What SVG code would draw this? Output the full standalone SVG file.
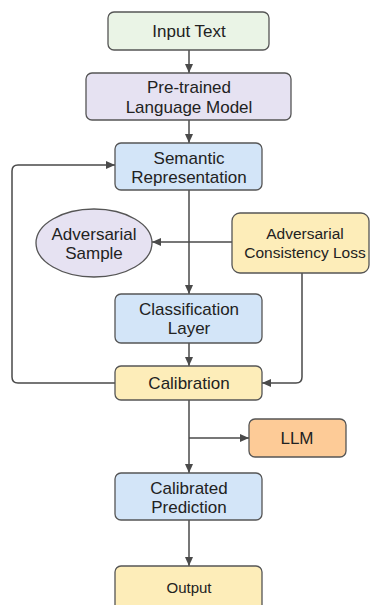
<svg xmlns="http://www.w3.org/2000/svg" width="371" height="605" viewBox="0 0 371 605">
  <style>
    .box { stroke: #555; stroke-width: 1.3; }
    .green { fill: #eaf4e6; }
    .lav { fill: #e6e2f2; }
    .blue { fill: #d3e5f8; }
    .yellow { fill: #fdedb9; }
    .orange { fill: #fdcb97; }
    .t { font-family: "Liberation Sans", Arial, sans-serif; font-size: 17px; fill: #222; text-anchor: middle; }
    .s { font-size: 15.5px; }
    .xs { font-size: 15px; }
    .wire { fill: none; stroke: #4a4a4a; stroke-width: 1.5; }
  </style>
  <defs>
    <marker id="arrow" markerWidth="10" markerHeight="10" refX="9" refY="5" orient="auto" markerUnits="userSpaceOnUse">
      <path d="M0,1 L9,5 L0,9 Z" fill="#4a4a4a"/>
    </marker>
  </defs>
  <rect width="371" height="605" fill="#ffffff"/>

  <g id="connectors">
    <path class="wire" d="M189,50 V73" marker-end="url(#arrow)"/>
    <path class="wire" d="M189,120 V143" marker-end="url(#arrow)"/>
    <path class="wire" d="M189,190 V294" marker-end="url(#arrow)"/>
    <path class="wire" d="M232,242 H152" marker-end="url(#arrow)"/>
    <path class="wire" d="M189,343 V366" marker-end="url(#arrow)"/>
    <path class="wire" d="M302,273 V377 Q302,383 296,383 H262" marker-end="url(#arrow)"/>
    <path class="wire" d="M115,383 H18 Q12,383 12,377 V171 Q12,165 18,165 H115" marker-end="url(#arrow)"/>
    <path class="wire" d="M189,400 V473" marker-end="url(#arrow)"/>
    <path class="wire" d="M189,438 H249" marker-end="url(#arrow)"/>
    <path class="wire" d="M189,520 V566" marker-end="url(#arrow)"/>
  </g>

  <g id="input-text">
    <rect class="box green" x="108" y="12" width="161" height="38" rx="6"/>
    <text class="t" x="189" y="37">Input Text</text>
  </g>
  <g id="pretrained-lm">
    <rect class="box lav" x="86" y="73" width="205" height="47" rx="6"/>
    <text class="t" x="189" y="93">Pre-trained</text>
    <text class="t" x="189" y="113">Language Model</text>
  </g>
  <g id="semantic-representation">
    <rect class="box blue" x="115" y="143" width="147" height="47" rx="6"/>
    <text class="t" x="189" y="164">Semantic</text>
    <text class="t" x="189" y="183">Representation</text>
  </g>
  <g id="adversarial-sample">
    <ellipse class="box lav" cx="94" cy="243" rx="58" ry="34"/>
    <text class="t" x="94" y="240">Adversarial</text>
    <text class="t" x="94" y="259">Sample</text>
  </g>
  <g id="adversarial-consistency-loss">
    <rect class="box yellow" x="232" y="213" width="137" height="60" rx="8"/>
    <text class="t s" x="305" y="239">Adversarial</text>
    <text class="t s" x="305" y="258">Consistency Loss</text>
  </g>
  <g id="classification-layer">
    <rect class="box blue" x="115" y="294" width="147" height="49" rx="6"/>
    <text class="t" x="189" y="315">Classification</text>
    <text class="t" x="189" y="334">Layer</text>
  </g>
  <g id="calibration">
    <rect class="box yellow" x="115" y="366" width="147" height="34" rx="6"/>
    <text class="t" x="189" y="389">Calibration</text>
  </g>
  <g id="llm">
    <rect class="box orange" x="249" y="419" width="97" height="38" rx="6"/>
    <text class="t" x="297" y="444">LLM</text>
  </g>
  <g id="calibrated-prediction">
    <rect class="box blue" x="115" y="473" width="147" height="47" rx="6"/>
    <text class="t" x="189" y="494">Calibrated</text>
    <text class="t" x="189" y="513">Prediction</text>
  </g>
  <g id="output">
    <rect class="box yellow" x="115" y="566" width="147" height="46" rx="6"/>
    <text class="t xs" x="189" y="593">Output</text>
  </g>
</svg>
